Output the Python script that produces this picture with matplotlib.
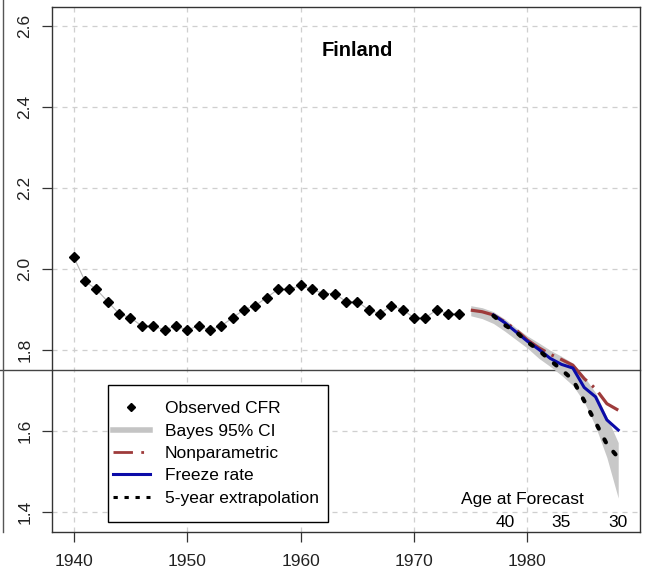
import matplotlib
matplotlib.use("Agg")
import matplotlib.pyplot as plt
from matplotlib.lines import Line2D
from matplotlib.patches import Rectangle
import numpy as np

plt.rcParams['font.family'] = ['Liberation Sans', 'DejaVu Sans']

# ---- data ----
obs_years = list(range(1940, 1975))
obs_cfr = [2.03, 1.97, 1.95, 1.92, 1.89, 1.88, 1.86, 1.86, 1.85, 1.86,
           1.85, 1.86, 1.85, 1.86, 1.88, 1.90, 1.91, 1.93, 1.95, 1.95,
           1.96, 1.95, 1.94, 1.94, 1.92, 1.92, 1.90, 1.89, 1.91, 1.90,
           1.88, 1.88, 1.90, 1.89, 1.89]

fc_years = list(range(1975, 1989))
ci_upper = [1.910, 1.905, 1.895, 1.877, 1.855, 1.835, 1.818, 1.800, 1.785,
            1.768, 1.735, 1.695, 1.635, 1.572]
ci_lower = [1.885, 1.878, 1.866, 1.847, 1.826, 1.805, 1.780, 1.760, 1.738,
            1.713, 1.672, 1.612, 1.535, 1.435]
nonparam = [1.899, 1.895, 1.887, 1.870, 1.850, 1.825, 1.806, 1.790, 1.777,
            1.763, 1.730, 1.705, 1.668, 1.652]

fr_years = list(range(1977, 1989))
freeze = [1.887, 1.868, 1.845, 1.822, 1.802, 1.780, 1.765, 1.756, 1.708,
          1.685, 1.628, 1.603]
extrap = [1.885, 1.862, 1.845, 1.820, 1.800, 1.775, 1.752, 1.727, 1.675,
          1.622, 1.568, 1.535]

age_years = [1978, 1983, 1988]
age_labels = ["40", "35", "30"]

xticks = [1940, 1950, 1960, 1970, 1980]
yticks = [1.4, 1.6, 1.8, 2.0, 2.2, 2.4, 2.6]

legend_labels = ["Observed CFR", "Bayes 95% CI", "Nonparametric",
                 "Freeze rate", "5-year extrapolation"]

# ---- style ----
c_band = '#c8c8c8'
c_brown = '#9e3b3b'
c_blue = '#0b0ba8'
fs = 12.5
brown_dash = (0, (11, 2.2, 0.8, 2.2))
dot_style = (0, (0.8, 2.9))

fig = plt.figure(figsize=(6.48, 5.76), dpi=100)
ax = fig.add_axes([52 / 648, 1 - 531.7 / 576, 588 / 648, 525 / 576])

ax.set_xlim(1938.08, 1989.92)
ax.set_ylim(1.352, 2.648)

# grid
for xv in xticks:
    ax.axvline(xv, color='#cfcfcf', lw=0.9, ls=(0, (4, 4)), zorder=0)
for yv in yticks:
    ax.axhline(yv, color='#cfcfcf', lw=0.9, ls=(0, (4, 4)), zorder=0)

# horizontal divider line, extending to the left figure edge
ax.axhline(1.75, xmin=-52 / 588, xmax=1, color='#444444', lw=1.0,
           clip_on=False, zorder=1)
fig.add_artist(Line2D([3 / 648, 3 / 648], [1 - 532 / 576, 1.0],
                      color='#555555', lw=1.0))

# observed
ax.plot(obs_years, obs_cfr, color='#b5b5b5', lw=0.8, zorder=2)
ax.plot(obs_years, obs_cfr, ls='none', marker='D', ms=5.0,
        color='black', zorder=6)

# band
ax.fill_between(fc_years, ci_lower, ci_upper, color=c_band, lw=0, zorder=2)

# lines
ax.plot(fc_years, nonparam, color=c_brown, lw=2.3, ls=brown_dash, zorder=3)
ax.plot(fr_years, freeze, color=c_blue, lw=2.2, zorder=4)
ax.plot(fr_years, extrap, color='black', lw=3.0, ls=dot_style,
        dash_capstyle='round', zorder=5)

# title and annotations
ax.text(1965, 2.54, "Finland", fontsize=14.5, fontweight='bold',
        ha='center', va='center')
ax.text(1979.55, 1.432, "Age at Forecast", fontsize=fs,
        ha='center', va='center')
for yr, lab in zip(age_years, age_labels):
    ax.text(yr, 1.374, lab, fontsize=fs, ha='center', va='center')

# axes styling
ax.set_xticks(xticks)
ax.set_yticks(yticks)
ax.set_xticklabels([str(x) for x in xticks])
ax.set_yticklabels(["%.1f" % y for y in yticks], rotation=90, va='center')
ax.tick_params(axis='both', direction='out', length=7, width=0.9,
               color='#333333', labelsize=fs, labelcolor='#222222')
ax.tick_params(axis='x', pad=9)
ax.tick_params(axis='y', pad=7)
for sp in ax.spines.values():
    sp.set_color('#333333')
    sp.set_linewidth(1.0)

# legend
handles = [
    Line2D([], [], ls='none', marker='D', ms=4, color='black'),
    Line2D([], [], color='#c4c4c4', lw=4),
    Line2D([], [], color=c_brown, lw=2.0, ls=(0, (7, 3, 1, 3))),
    Line2D([], [], color=c_blue, lw=2.2),
    Line2D([], [], color='black', lw=2.2, ls=(0, (1.4, 2.2))),
]
rect = Rectangle((56 / 588, (531.7 - 522) / 525), 220 / 588, 137 / 525,
                 transform=ax.transAxes, facecolor='white',
                 edgecolor='black', lw=1.0, zorder=7)
ax.add_patch(rect)
leg = ax.legend(handles, legend_labels, loc='upper left',
                bbox_to_anchor=((112.7 - 52) / 588, (531.7 - 401) / 525),
                frameon=False, borderpad=0, borderaxespad=0,
                handlelength=2.15, handletextpad=0.85, labelspacing=0.42,
                fontsize=fs)
leg.set_zorder(8)

fig.savefig("out.png", dpi=100)
